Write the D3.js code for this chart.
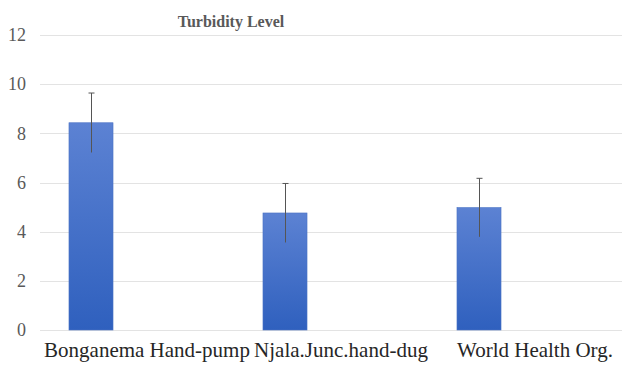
<!DOCTYPE html>
<html><head><meta charset="utf-8">
<script src="https://cdn.jsdelivr.net/npm/d3@7"></script>
<style>body{margin:0;background:#fff}svg{display:block}</style>
</head><body>
<svg id="c" width="622" height="368"></svg>
<script>
const categories = ["Bonganema Hand-pump", "Njala.Junc.hand-dug", "World Health Org."];
const turbidity = [8.43, 4.76, 4.98];
const errorPlus = [1.21, 1.2, 1.19];
const yTicks = [0, 2, 4, 6, 8, 10, 12];
const title = "Turbidity Level";

const svg = d3.select("#c");
const W = 622, H = 368;
const FONT = "Liberation Serif";
const y = d3.scaleLinear().domain([0, 12]).range([330, 35]);
const x = d3.scaleBand().domain(categories).range([-6, 576]).padding(0);
const bw = x.bandwidth();
const barW = bw * 0.227;

const defs = svg.append("defs");
const g = defs.append("linearGradient").attr("id", "bg").attr("x1", 0).attr("y1", 0).attr("x2", 0).attr("y2", 1);
g.append("stop").attr("offset", "0%").attr("stop-color", "#5c82d3");
g.append("stop").attr("offset", "100%").attr("stop-color", "#2f60be");

// gridlines
svg.append("g").selectAll("line").data(yTicks).join("line")
  .attr("x1", 40).attr("x2", W).attr("y1", d => Math.round(y(d)) + 0.5).attr("y2", d => Math.round(y(d)) + 0.5)
  .attr("stroke", "#e3e3e3").attr("stroke-width", 1);

// y-axis labels
const yAxis = d3.axisLeft(y).tickValues(yTicks).tickSize(0).tickPadding(0);
const ya = svg.append("g").attr("transform", "translate(26,0)").call(yAxis)
  .attr("font-family", FONT).attr("font-size", 18);
ya.select(".domain").remove();
ya.selectAll("text").attr("fill", "#595959");

// bars
svg.append("g").selectAll("rect").data(categories).join("rect")
  .attr("x", d => x(d) + (bw - barW) / 2)
  .attr("width", barW)
  .attr("y", (d, i) => y(turbidity[i]))
  .attr("height", (d, i) => y(0) - y(turbidity[i]))
  .attr("fill", "url(#bg)")
  .attr("stroke", "#4a72c4").attr("stroke-width", 0.6);

// error bars
const eb = svg.append("g").attr("stroke", "#555").attr("stroke-width", 1);
categories.forEach((c, i) => {
  const cx = Math.round(x(c) + bw / 2) + 0.5;
  const top = y(turbidity[i] + errorPlus[i]);
  const bot = y(turbidity[i] - errorPlus[i]);
  eb.append("line").attr("x1", cx).attr("x2", cx).attr("y1", top).attr("y2", bot);
  eb.append("line").attr("x1", cx - 3).attr("x2", cx + 3).attr("y1", top).attr("y2", top);
});

// x labels
svg.append("g").attr("font-family", FONT).attr("font-size", 21)
  .selectAll("text").data(categories).join("text")
  .attr("x", d => x(d) + bw / 2 + 56)
  .attr("y", 357)
  .attr("text-anchor", "middle")
  .attr("fill", "#262626")
  .text(d => d);

// title
svg.append("text").attr("x", 231).attr("y", 27).attr("text-anchor", "middle")
  .attr("font-family", FONT).attr("font-size", 16).attr("font-weight", "bold").attr("fill", "#595959")
  .text(title);
</script>
</body></html>
